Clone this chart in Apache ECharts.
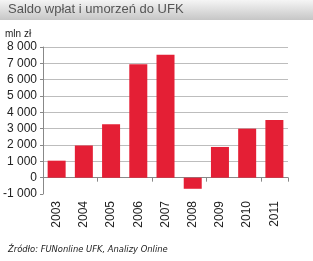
<!DOCTYPE html>
<html>
<head>
<meta charset="utf-8">
<script src="https://cdn.jsdelivr.net/npm/echarts@6/dist/echarts.min.js"></script>
<style>
  html, body { margin: 0; padding: 0; background: #fff; }
  #saldo { width: 313px; height: 261px; }
</style>
</head>
<body>
<div id="saldo"></div>
<script>
  // lata i saldo (mln zł)
  var years = ['2003', '2004', '2005', '2006', '2007', '2008', '2009', '2010', '2011']
  var saldo = [1040, 1970, 3270, 6950, 7520, -680, 1880, 3000, 3530]
  var yMin = -1000
  var yMax = 8000
  var yStep = 1000

  var chart = echarts.init(document.getElementById('saldo'))
  var font = 'Liberation Sans, Arial, sans-serif'

  chart.setOption({
    animation: false,
    title: [
      {
        text: 'Saldo wpłat i umorzeń do UFK',
        left: 8, top: 3, padding: 0,
        textStyle: { fontFamily: font, fontSize: 13, fontWeight: 'normal', color: '#555' }
      },
      {
        text: 'mln zł',
        left: 5, top: 29, padding: 0,
        textStyle: { fontFamily: font, fontSize: 10, fontWeight: 'normal', color: '#222' }
      },
      {
        text: 'Źródło: FUNonline UFK, Analizy Online',
        left: 8, top: 246, padding: 0,
        textStyle: { fontFamily: 'DejaVu Sans', fontSize: 8.4, fontStyle: 'italic', fontWeight: 'normal', color: '#222' }
      }
    ],
    graphic: [
      {
        type: 'rect', z: -1,
        shape: { x: 0, y: 0, width: 313, height: 20 },
        style: {
          fill: new echarts.graphic.LinearGradient(0, 0, 0, 1, [
            { offset: 0, color: '#f5f5f5' },
            { offset: 1, color: '#c6c6c6' }
          ])
        }
      }
    ],
    grid: { left: 35, right: 25, top: 47, bottom: 67 },
    xAxis: [
      {
        type: 'category',
        data: years,
        axisLine: { onZero: true, lineStyle: { color: '#888' } },
        axisTick: { show: true, length: 4, lineStyle: { color: '#888' } },
        axisLabel: { show: false }
      },
      {
        type: 'category',
        data: years,
        position: 'bottom',
        axisLine: { show: false, onZero: false },
        axisTick: { show: false },
        axisLabel: { rotate: 90, margin: 7, fontFamily: font, fontSize: 12, color: '#222' }
      }
    ],
    yAxis: {
      type: 'value',
      min: yMin, max: yMax, interval: yStep,
      axisLine: { show: true, lineStyle: { color: '#888' } },
      axisTick: { show: true, length: 3, lineStyle: { color: '#888' } },
      axisLabel: {
        margin: 6, fontFamily: font, fontSize: 12, color: '#222',
        formatter: function (v) {
          var s = String(Math.abs(v)).replace(/\B(?=(\d{3})+(?!\d))/g, ' ')
          return (v < 0 ? '-' : '') + s
        }
      },
      splitLine: { show: true, showMinLine: false, lineStyle: { color: '#bdbdbd' } }
    },
    series: [
      {
        type: 'bar',
        xAxisIndex: 0,
        data: saldo,
        barWidth: 18,
        itemStyle: { color: '#e41f35' }
      }
    ]
  })
</script>
</body>
</html>
